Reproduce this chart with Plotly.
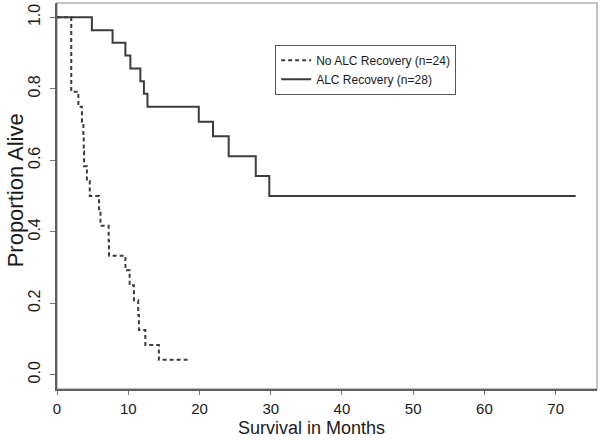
import plotly.graph_objects as go

# Kaplan-Meier step data
alc_time = [0, 4.9, 7.8, 9.6, 10.3, 11.7, 12.2, 12.7, 19.9, 21.9, 24.1, 27.9, 29.8, 72.8]
alc_surv = [1.0, 0.964, 0.929, 0.893, 0.857, 0.821, 0.786, 0.750, 0.708, 0.667, 0.611, 0.556, 0.500, 0.500]

noalc_time = [0, 2.0, 3.0, 3.5, 3.7, 3.75, 3.8, 4.2, 4.6, 5.9, 6.1, 7.25, 7.3,
              9.6, 10.2, 10.8, 11.4, 11.5, 12.4, 14.3, 18.7]
noalc_surv = [1.0, 0.792, 0.750, 0.708, 0.667, 0.625, 0.583, 0.542, 0.500, 0.458, 0.417, 0.375, 0.333,
              0.292, 0.250, 0.208, 0.167, 0.125, 0.083, 0.042, 0.042]

series_names = ["No ALC Recovery (n=24)", "ALC Recovery (n=28)"]
x_ticks = [0, 10, 20, 30, 40, 50, 60, 70]
y_ticks = [0.0, 0.2, 0.4, 0.6, 0.8, 1.0]

FONT = "Liberation Sans, Arial, Helvetica, sans-serif"
LINE_COL = "#3c3c3c"

fig = go.Figure()
fig.add_trace(go.Scatter(x=noalc_time, y=noalc_surv, mode="lines", name=series_names[0],
                         line=dict(shape="hv", color=LINE_COL, width=2, dash="4px,3px")))
fig.add_trace(go.Scatter(x=alc_time, y=alc_surv, mode="lines", name=series_names[1],
                         line=dict(shape="hv", color=LINE_COL, width=2)))

fig.update_layout(
    width=600, height=440,
    margin=dict(l=57, r=3, t=3, b=51, autoexpand=False),
    plot_bgcolor="white", paper_bgcolor="white",
    font=dict(family=FONT, color="#1a1a1a"),
    showlegend=True,
    legend=dict(x=0.404, y=0.892, xanchor="left", yanchor="top",
                bordercolor="#555555", borderwidth=1, bgcolor="white",
                font=dict(size=12, family=FONT, color="#1a1a1a"),
                tracegroupgap=0),
    shapes=[dict(type="rect", xref="paper", yref="paper", x0=0, y0=0, x1=1, y1=1,
                 line=dict(color="#b0b0b0", width=1.5), layer="below")],
    annotations=[
        dict(text="Survival in Months", xref="paper", yref="paper", x=0.4706, y=-0.1321,
             xanchor="center", yanchor="bottom", showarrow=False,
             font=dict(size=18, family=FONT, color="#1a1a1a")),
        dict(text="Proportion Alive", xref="paper", yref="paper", x=-0.0778, y=0.5146,
             xanchor="center", yanchor="middle", showarrow=False, textangle=-90,
             font=dict(size=22, family=FONT, color="#1a1a1a")),
    ],
)
fig.update_xaxes(range=[0, 75.8], tickvals=x_ticks, ticks="outside", ticklen=4,
                 tickcolor="#777777", showgrid=False, zeroline=False, automargin=False,
                 showline=True, linecolor="#606060", linewidth=1.5,
                 tickfont=dict(size=15, family=FONT, color="#1a1a1a"),
                 ticklabelstandoff=1)
fig.update_yaxes(range=[-0.04, 1.04], tickvals=y_ticks, tickformat=".1f", ticks="outside",
                 ticklen=5, tickcolor="#777777", showgrid=False, zeroline=False, automargin=False,
                 showline=True, linecolor="#606060", linewidth=1.5, tickangle=-90,
                 tickfont=dict(size=16, family=FONT, color="#1a1a1a"),
                 ticklabelstandoff=4)

fig.write_html("out.html", config={"displayModeBar": False},
               post_script="document.body.style.margin='0';document.body.style.padding='0';")
